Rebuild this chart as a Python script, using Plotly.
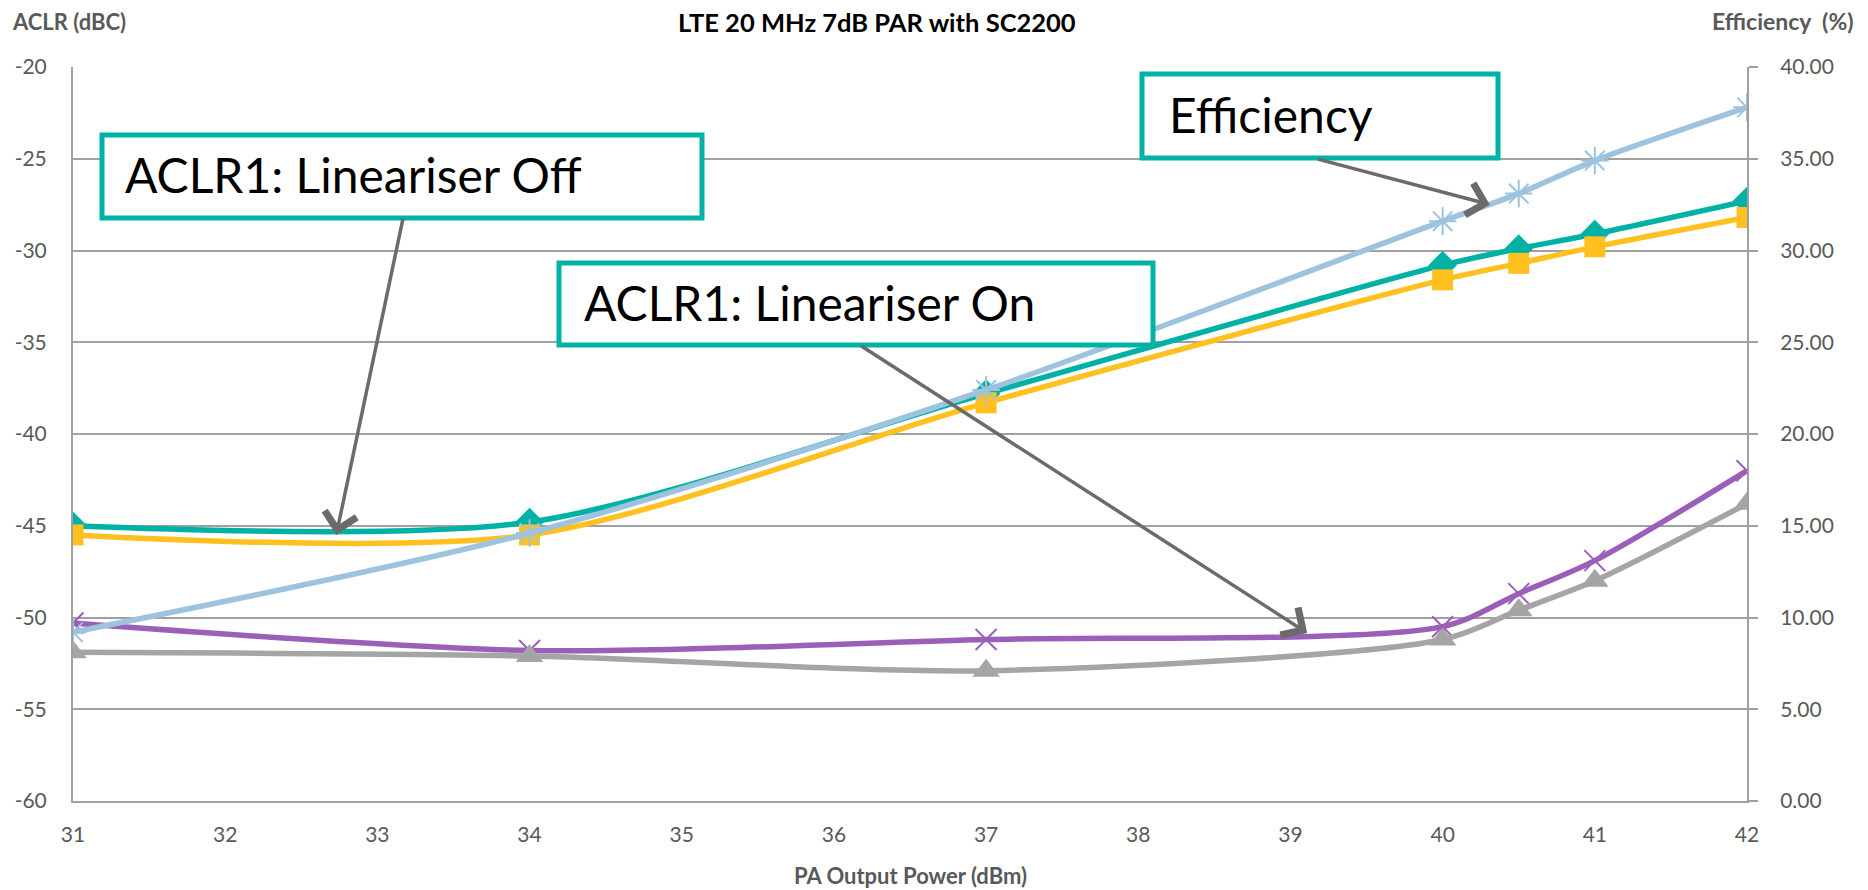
import plotly.graph_objects as go

# ---------------- data ----------------
power_dbm = [31, 34, 37, 40, 40.5, 41, 42]
aclr_off_low = [-45.0, -44.8, -37.8, -30.8, -29.9, -29.1, -27.3]   # teal diamonds
aclr_off_high = [-45.5, -45.5, -38.3, -31.6, -30.7, -29.8, -28.2]  # yellow squares
aclr_on_high = [-50.3, -51.8, -51.2, -50.5, -48.7, -46.9, -42.0]   # purple x
aclr_on_low = [-51.9, -52.1, -52.9, -51.2, -49.6, -48.0, -43.8]    # grey triangles
efficiency_pct = [9.2, 14.6, 22.4, 31.6, 33.1, 34.9, 37.8]         # light blue asterisks

x_ticks = [31, 32, 33, 34, 35, 36, 37, 38, 39, 40, 41, 42]
aclr_ticks = [-60, -55, -50, -45, -40, -35, -30, -25, -20]
eff_ticks = [0, 5, 10, 15, 20, 25, 30, 35, 40]

# ---------------- styles ----------------
BODY = 8                      # default page body margin of the browser
W, H = 1868 - BODY, 890 - BODY
ML, MR, MT, MB = 73 - BODY, 121, 67 - BODY, 89
PW, PH = W - ML - MR, H - MT - MB

TEAL = "#00B2A5"
YELLOW = "#FFC020"
PURPLE = "#9B5FB9"
GREY = "#A5A5A5"
LBLUE = "#9DC3DE"
AXIS = "#A0A0A0"
TXT = "#595959"
ARROW = "#6B6B6B"
FONT = "Lato"


def px_x(px):  # page pixel -> paper
    return (px - BODY - ML) / PW


def px_y(py):
    return (MT + PH - (py - BODY)) / PH


fig = go.Figure()


def add_series(y, color, symbol, size, yaxis="y", open_marker=False):
    marker = dict(symbol=symbol, size=size, color=color)
    if open_marker:
        marker["line"] = dict(color=color, width=2)
    fig.add_trace(go.Scatter(
        x=power_dbm, y=y, mode="lines+markers", yaxis=yaxis,
        line=dict(color=color, width=5.5, shape="spline", smoothing=0.8),
        marker=marker, showlegend=False, hoverinfo="x+y"))


add_series(aclr_off_low, TEAL, "diamond", 22)
add_series(aclr_off_high, YELLOW, "square", 21)
add_series(aclr_on_high, PURPLE, "x-thin", 21, open_marker=True)
add_series(aclr_on_low, GREY, "triangle-up", 24)
add_series(efficiency_pct, LBLUE, "asterisk-open", 23, yaxis="y2", open_marker=True)

fig.update_layout(
    width=W, height=H,
    margin=dict(l=ML, r=MR, t=MT, b=MB, autoexpand=False),
    paper_bgcolor="white", plot_bgcolor="white",
    font=dict(family=FONT, color=TXT, size=21),
    xaxis=dict(range=[31, 42], tickvals=x_ticks, showgrid=False, zeroline=False,
               showline=True, linecolor=AXIS, linewidth=2, ticks="", automargin=False,
               tickfont=dict(size=21, color=TXT), ticklabelstandoff=14),
    yaxis=dict(range=[-60, -20], tickvals=aclr_ticks, ticktext=[str(v) for v in aclr_ticks],
               showgrid=True, gridcolor=AXIS, gridwidth=1.5, automargin=False,
               zeroline=False, showline=True, linecolor=AXIS, linewidth=2, ticks="",
               tickfont=dict(size=21, color=TXT), ticklabelstandoff=20),
    yaxis2=dict(range=[0, 40], tickvals=eff_ticks, ticktext=[f"{v:.2f}" for v in eff_ticks],
                overlaying="y", side="right", automargin=False,
                showgrid=False, zeroline=False, showline=True, linecolor=AXIS, linewidth=2,
                ticks="outside", ticklen=9, tickcolor=AXIS, tickwidth=2,
                tickfont=dict(size=21, color=TXT), ticklabelstandoff=18),
)


# ---------------- titles ----------------
def text_ann(txt, px, py, xanchor, size, bold=True, color=TXT):
    fig.add_annotation(text=f"<b>{txt}</b>" if bold else txt, xref="paper", yref="paper",
                       x=px_x(px), y=px_y(py), xanchor=xanchor, yanchor="middle",
                       showarrow=False, font=dict(family=FONT, size=size, color=color))


text_ann("LTE 20 MHz 7dB PAR with SC2200", 877, 22, "center", 25.5, color="black")
text_ann("ACLR (dBC)", 10, 21, "left", 22)
text_ann("Efficiency  (%)", 1856, 21, "right", 23)
text_ann("PA Output Power (dBm)", 910, 876, "center", 22)

# ---------------- callout boxes ----------------
boxes = [
    ("ACLR1: Lineariser Off", 102, 135, 702, 218, 123, 174),
    ("Efficiency", 1142, 74, 1498, 158, 1167, 114),
    ("ACLR1: Lineariser On", 559, 263, 1153, 345, 582, 302),
]
for txt, x0, y0, x1, y1, tx, ty in boxes:
    fig.add_shape(type="rect", xref="paper", yref="paper",
                  x0=px_x(x0), x1=px_x(x1), y0=px_y(y1), y1=px_y(y0),
                  line=dict(color=TEAL, width=5), fillcolor="white", layer="above")
    fig.add_annotation(text=txt, xref="paper", yref="paper", x=px_x(tx), y=px_y(ty),
                       xanchor="left", yanchor="middle", showarrow=False,
                       font=dict(family=FONT, size=48, color="black"))

# ---------------- arrows (data coordinates) ----------------
arrows = [
    ((33.17, -28.2), (32.73, -45.5)),
    ((39.17, -25.0), (40.31, -27.5)),
    ((36.17, -35.15), (39.11, -50.84)),
]
for (tx, ty), (hx, hy) in arrows:
    fig.add_annotation(x=hx, y=hy, ax=tx, ay=ty, xref="x", yref="y", axref="x", ayref="y",
                       text="", showarrow=True, arrowhead=4, arrowsize=1.8, arrowwidth=3.5,
                       arrowcolor=ARROW, standoff=0, startstandoff=0)

fig.write_html("out.html")
